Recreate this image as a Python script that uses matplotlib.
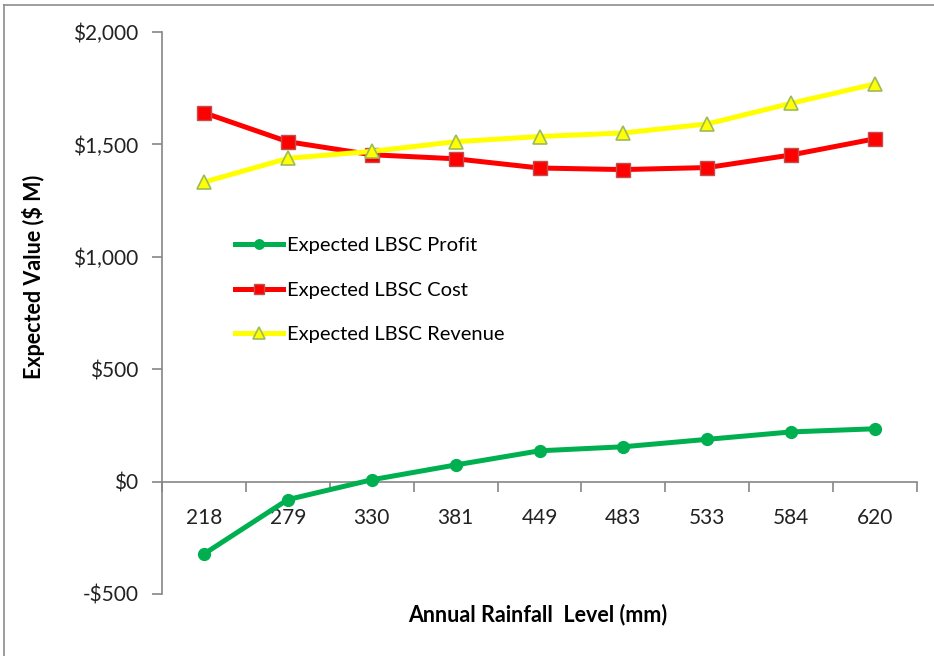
import matplotlib.pyplot as plt
from matplotlib.lines import Line2D
from matplotlib.ticker import FuncFormatter, FixedLocator

# 数据
rainfall = ['218', '279', '330', '381', '449', '483', '533', '584', '620']
profit = [-322, -80, 8, 74, 137, 155, 188, 221, 235]
cost = [1641, 1512, 1454, 1436, 1395, 1388, 1397, 1453, 1525]
revenue = [1332, 1438, 1469, 1512, 1535, 1551, 1591, 1683, 1769]

plt.rcParams['font.family'] = ['Lato', 'DejaVu Sans']

fig = plt.figure(figsize=(9.34, 6.56), dpi=100)
ax = fig.add_axes([162 / 934, 1 - 594 / 656, 755 / 934, 562 / 656])

x = list(range(len(rainfall)))
ax.plot(x, profit, color='#00b050', lw=3.6, marker='o', ms=8.5,
        mfc='#00b050', mec='#00b050', label='Expected LBSC Profit', zorder=3)
ax.plot(x, cost, color='#ff0000', lw=3.6, marker='s', ms=9.5,
        mfc='#ff0000', mec='#c0504d', mew=1, label='Expected LBSC Cost', zorder=3)
ax.plot(x, revenue, color='#ffff00', lw=3.6, marker='^', ms=10.5,
        mfc='#ffff00', mec='#9bbb59', mew=1.2, label='Expected LBSC Revenue', zorder=3)

ax.set_xlim(-0.5, len(rainfall) - 0.5)
ax.set_ylim(-500, 2000)
ax.set_yticks([-500, 0, 500, 1000, 1500, 2000])
ax.yaxis.set_major_formatter(FuncFormatter(
    lambda v, p: ('-$' if v < 0 else '$') + format(abs(int(v)), ',')))

# x 轴在 0 处
ax.spines['bottom'].set_position(('data', 0))
ax.spines['top'].set_visible(False)
ax.spines['right'].set_visible(False)
for s in ['left', 'bottom']:
    ax.spines[s].set_color('#868686')
    ax.spines[s].set_linewidth(1.2)

ax.set_xticks(x)
ax.set_xticklabels(rainfall)
ax.xaxis.set_minor_locator(FixedLocator([i - 0.5 for i in range(len(rainfall) + 1)]))
ax.tick_params(axis='x', which='major', length=0, pad=19, labelsize=15, labelcolor='#222222')
ax.tick_params(axis='x', which='minor', length=7, color='#868686', width=1.2)
ax.tick_params(axis='y', length=7, color='#868686', width=1.2, pad=10,
               labelsize=15, labelcolor='#222222')

fig.text(34 / 934, 1 - 277 / 656, 'Expected Value ($ M)', rotation=90,
         ha='center', va='center', fontsize=15.5, fontweight='bold')
fig.text(538 / 934, 1 - 615 / 656, 'Annual Rainfall  Level (mm)',
         ha='center', va='center', fontsize=15.5, fontweight='bold')

ax.legend(loc='center left', bbox_to_anchor=(217 / 934, 1 - 290 / 656),
          bbox_transform=fig.transFigure, frameon=False, fontsize=14.5,
          handlelength=2.4, handletextpad=0.2, labelspacing=1.35, markerscale=0.8)

# 外框
fig.add_artist(Line2D([4 / 934, 4 / 934], [0, 1 - 5 / 656], color='#8c8c8c', lw=1.2))
fig.add_artist(Line2D([4 / 934, 1], [1 - 5 / 656, 1 - 5 / 656], color='#8c8c8c', lw=1.2))

fig.savefig('out.png', dpi=100)
